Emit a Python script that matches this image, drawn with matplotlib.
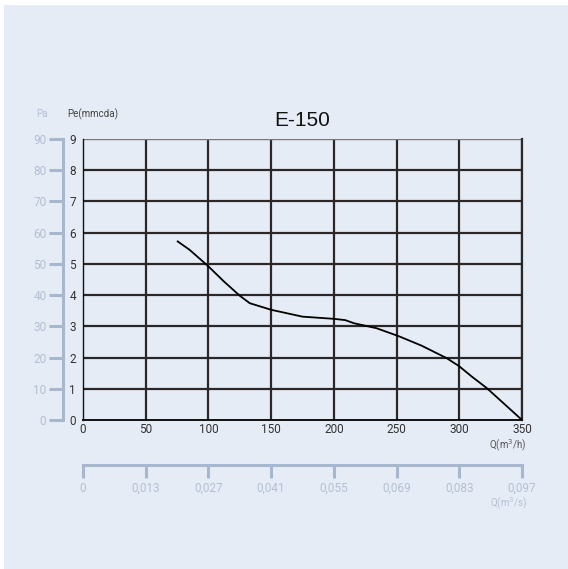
import numpy as np
import matplotlib.pyplot as plt

plt.rcParams['font.family'] = ['Roboto', 'DejaVu Sans']

# curva del ventilador E-150
caudal = [75.5, 85, 100, 112, 125, 133, 150, 175, 200, 209, 216, 234, 252, 270, 290, 300, 310, 322, 350]
presion = [5.72, 5.45, 4.92, 4.45, 3.98, 3.74, 3.53, 3.31, 3.24, 3.2, 3.10, 2.94, 2.68, 2.38, 1.98, 1.72, 1.39, 1.02, 0.0]

q_ticks = [0, 50, 100, 150, 200, 250, 300, 350]
qs_labels = ["0", "0,013", "0,027", "0,041", "0,055", "0,069", "0,083", "0,097"]
pe_ticks = [0, 1, 2, 3, 4, 5, 6, 7, 8, 9]
pa_ticks = [0, 10, 20, 30, 40, 50, 60, 70, 80, 90]

fondo = "#e6ecf6"
gris_claro = "#b3c0d3"
linea_clara = "#a7b7cd"
oscuro = "#2b2628"

W, H = 568, 569
fig = plt.figure(figsize=(W / 100, H / 100), dpi=100)
fig.patch.set_facecolor("white")
fig.patches.append(plt.Rectangle((4 / W, 0), 1, 1 - 5 / H, transform=fig.transFigure,
                                 facecolor=fondo, edgecolor="none", zorder=-1))

x0, x1, y0, y1 = 83, 522, 420, 139
ax = fig.add_axes([x0 / W, 1 - y0 / H, (x1 - x0) / W, (y0 - y1) / H])
ax.set_facecolor(fondo)
ax.set_xlim(0, 350)
ax.set_ylim(0, 9)

for q in q_ticks[1:]:
    ax.axvline(q, color=oscuro, lw=1.6, zorder=1)
for p in pe_ticks[1:-1]:
    ax.axhline(p, color=oscuro, lw=1.6, zorder=1)
ax.axhline(9, color="#777777", lw=1.0, zorder=1)

ax.spines["top"].set_visible(False)
ax.spines["left"].set_color("#111111")
ax.spines["left"].set_linewidth(1.0)
ax.spines["bottom"].set_color("#111111")
ax.spines["bottom"].set_linewidth(1.4)
ax.spines["right"].set_color(oscuro)
ax.spines["right"].set_linewidth(1.6)

ax.plot(caudal, presion, color="black", lw=1.3, zorder=3)

ax.set_xticks(q_ticks)
ax.set_yticks(pe_ticks)
ax.tick_params(axis="both", length=0, labelsize=8.5, labelcolor="#333333")
ax.tick_params(axis="x", pad=2)
ax.tick_params(axis="y", pad=5)

ax.set_title("E-150", fontsize=15, color="#111111", pad=9, family=["Liberation Sans"])
ax.text(1.01, -0.09, "Q(m$^3$/h)", transform=ax.transAxes, ha="right", va="center",
        fontsize=7, color="#555555")

# eje secundario en Pa
pa = ax.secondary_yaxis((63 - x0) / (x1 - x0), functions=(lambda y: y * 10, lambda y: y / 10))
pa.set_yticks(pa_ticks)
pa.spines["left"].set_color(linea_clara)
pa.spines["left"].set_linewidth(2.2)
pa.tick_params(axis="y", direction="out", length=10, width=2.2, color=linea_clara,
               labelsize=8.5, labelcolor=gris_claro, pad=2)

# eje secundario en m3/s
qs = ax.secondary_xaxis(-(465 - y0) / (y0 - y1))
qs.set_xticks(q_ticks, labels=qs_labels)
qs.spines["bottom"].set_color(linea_clara)
qs.spines["bottom"].set_linewidth(2.2)
qs.tick_params(axis="x", direction="out", length=9, width=2.2, color=linea_clara,
               labelsize=8.5, labelcolor=gris_claro, pad=3)

fig.text(36 / W, 1 - 114 / H, "Pa", fontsize=7, color=gris_claro, va="center")
fig.text(67 / W, 1 - 114 / H, "Pe(mmcda)", fontsize=7, color="#444444", va="center")
fig.text(527 / W, 1 - 503 / H, "Q(m$^3$/s)", fontsize=7, color=gris_claro, ha="right", va="center")

fig.savefig("out.png", dpi=100, facecolor=fig.get_facecolor())
